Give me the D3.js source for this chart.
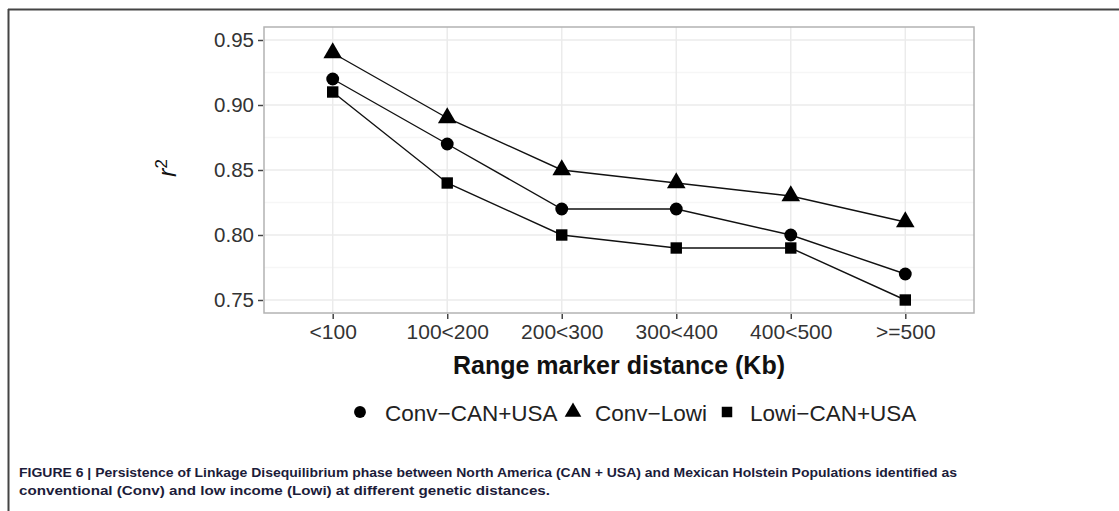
<!DOCTYPE html>
<html>
<head>
<meta charset="utf-8">
<script src="https://cdn.jsdelivr.net/npm/d3@7"></script>
<style>
  body { margin: 0; background: white; }
  svg { display: block; font-family: "Liberation Sans", Arial, sans-serif; }
</style>
</head>
<body>
<div id="chart"></div>
<script>
var categories = ["<100", "100<200", "200<300", "300<400", "400<500", ">=500"]
var convCanUsa = [0.92, 0.87, 0.82, 0.82, 0.80, 0.77]
var convLowi = [0.94, 0.89, 0.85, 0.84, 0.83, 0.81]
var lowiCanUsa = [0.91, 0.84, 0.80, 0.79, 0.79, 0.75]
var yTicks = [0.75, 0.80, 0.85, 0.90, 0.95]
var yMinor = [0.775, 0.825, 0.875, 0.925]
var seriesNames = ["Conv\u2212CAN+USA", "Conv\u2212Lowi", "Lowi\u2212CAN+USA"]

var width = 1119, height = 511
var panel = {left: 264, right: 974, top: 27, bottom: 313}

var svg = d3.select("#chart").append("svg")
    .attr("width", width)
    .attr("height", height)

// page frame (top + left edge)
svg.append("line").attr("x1", 8).attr("x2", width).attr("y1", 9.5).attr("y2", 9.5)
    .attr("stroke", "#444").attr("stroke-width", 2)
svg.append("line").attr("x1", 8.5).attr("x2", 8.5).attr("y1", 9).attr("y2", height)
    .attr("stroke", "#444").attr("stroke-width", 2)

var x = d3.scalePoint()
    .domain(categories)
    .range([panel.left, panel.right])
    .padding(0.6)

var y = d3.scaleLinear()
    .domain([0.74, 0.96])
    .range([panel.bottom, panel.top])

// grid
var grid = svg.append("g")
grid.selectAll(".minor").data(yMinor).enter().append("line")
    .attr("x1", panel.left).attr("x2", panel.right)
    .attr("y1", d => y(d)).attr("y2", d => y(d))
    .attr("stroke", "#f6f6f6").attr("stroke-width", 1.5)
grid.selectAll(".major").data(yTicks).enter().append("line")
    .attr("x1", panel.left).attr("x2", panel.right)
    .attr("y1", d => y(d)).attr("y2", d => y(d))
    .attr("stroke", "#ebebeb").attr("stroke-width", 1.5)
grid.selectAll(".vmajor").data(categories).enter().append("line")
    .attr("x1", d => x(d)).attr("x2", d => x(d))
    .attr("y1", panel.top).attr("y2", panel.bottom)
    .attr("stroke", "#ebebeb").attr("stroke-width", 1.5)

// panel border
svg.append("rect")
    .attr("x", panel.left).attr("y", panel.top)
    .attr("width", panel.right - panel.left)
    .attr("height", panel.bottom - panel.top)
    .attr("fill", "none").attr("stroke", "#b3b3b3").attr("stroke-width", 1.5)

// axes
var yAxis = svg.append("g")
    .attr("transform", "translate(" + (panel.left - 1) + ",0)")
    .call(d3.axisLeft(y).tickValues(yTicks).tickFormat(d3.format(".2f")).tickSize(5).tickPadding(4))
yAxis.select(".domain").remove()
yAxis.selectAll("line").attr("stroke", "#444").attr("stroke-width", 1.5)
yAxis.selectAll("text").attr("fill", "#333").style("font-size", "20.5px")

var xAxis = svg.append("g")
    .attr("transform", "translate(0," + (panel.bottom + 1) + ")")
    .call(d3.axisBottom(x).tickSize(5).tickPadding(5))
xAxis.select(".domain").remove()
xAxis.selectAll("line").attr("stroke", "#444").attr("stroke-width", 1.5)
xAxis.selectAll("text").attr("fill", "#333").style("font-size", "21px")

// axis titles
svg.append("text")
    .attr("x", (panel.left + panel.right) / 2)
    .attr("y", 374)
    .attr("text-anchor", "middle")
    .style("font-size", "25px")
    .style("font-weight", "bold")
    .attr("fill", "#111")
    .text("Range marker distance (Kb)")

var yl = svg.append("text")
    .attr("transform", "translate(176,168) rotate(-90)")
    .attr("text-anchor", "middle")
    .style("font-size", "25px")
    .attr("fill", "#111")
yl.append("tspan").style("font-style", "italic").text("r")
yl.append("tspan").attr("dy", -9).style("font-size", "17px").text("2")

// series
var series = [
    {name: seriesNames[0], values: convCanUsa, shape: d3.symbolCircle, size: 130},
    {name: seriesNames[1], values: convLowi, shape: d3.symbolTriangle, size: 150},
    {name: seriesNames[2], values: lowiCanUsa, shape: d3.symbolSquare, size: 130}
]

var line = d3.line()
    .x((d, i) => x(categories[i]))
    .y(d => y(d))

series.forEach(s => {
    svg.append("path")
        .datum(s.values)
        .attr("d", line)
        .attr("fill", "none")
        .attr("stroke", "#111")
        .attr("stroke-width", 1.4)
})
series.forEach(s => {
    svg.selectAll(null)
        .data(s.values)
        .enter()
        .append("path")
        .attr("transform", (d, i) => "translate(" + x(categories[i]) + "," + y(d) + ")")
        .attr("d", d3.symbol().type(s.shape).size(s.size))
        .attr("fill", "#000")
})

// legend
var legendItems = [
    {sx: 360, tx: 385},
    {sx: 573, tx: 595},
    {sx: 727, tx: 750}
]
var legend = svg.append("g")
series.forEach((s, i) => {
    legend.append("path")
        .attr("transform", "translate(" + legendItems[i].sx + ",412)")
        .attr("d", d3.symbol().type(s.shape).size(i === 1 ? 120 : 110))
        .attr("fill", "#000")
    legend.append("text")
        .attr("x", legendItems[i].tx)
        .attr("y", 421)
        .style("font-size", "22.5px")
        .attr("fill", "#222")
        .text(s.name)
})

// caption
var caption = svg.append("g")
    .style("font-family", "'Liberation Sans Narrow', 'Liberation Sans', Arial, sans-serif")
    .style("font-weight", "bold")
    .style("font-size", "12.5px")
    .attr("fill", "#1c1c3a")
caption.append("text")
    .attr("x", 19).attr("y", 477)
    .attr("textLength", 938).attr("lengthAdjust", "spacingAndGlyphs")
    .text("FIGURE 6 | Persistence of Linkage Disequilibrium phase between North America (CAN + USA) and Mexican Holstein Populations identified as")
caption.append("text")
    .attr("x", 19).attr("y", 495)
    .attr("textLength", 531).attr("lengthAdjust", "spacingAndGlyphs")
    .text("conventional (Conv) and low income (Lowi) at different genetic distances.")
</script>
</body>
</html>
